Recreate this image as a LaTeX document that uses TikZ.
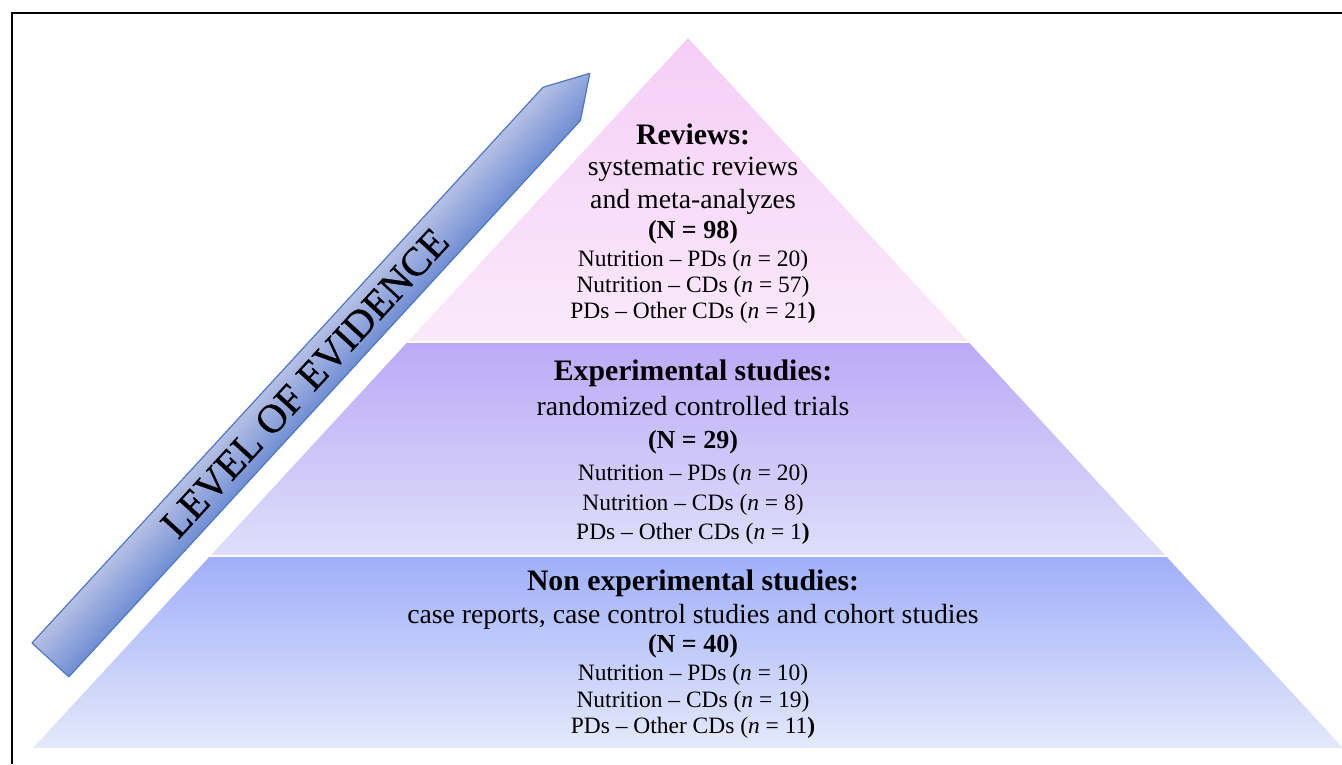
\documentclass[tikz,border=0pt]{standalone}
\usepackage{fontspec}
\setmainfont{Liberation Serif}
\newfontfamily\arrowfont[FakeBold=0.7]{Liberation Serif}
\definecolor{pinkT}{RGB}{245,206,247}
\definecolor{pinkB}{RGB}{250,233,250}
\definecolor{purT}{RGB}{188,170,247}
\definecolor{purB}{RGB}{222,222,250}
\definecolor{bluT}{RGB}{160,175,250}
\definecolor{bluB}{RGB}{228,233,250}
\definecolor{arrL}{RGB}{182,192,228}
\definecolor{arrD}{RGB}{112,142,212}
\definecolor{arrE}{RGB}{79,119,196}
\tikzset{
  head/.style={font=\fontsize{22.3}{26}\selectfont\bfseries, anchor=base, inner sep=0pt},
  sub/.style={font=\fontsize{20.8}{24}\selectfont, anchor=base, inner sep=0pt},
  subb/.style={font=\fontsize{19.5}{23}\selectfont\bfseries, anchor=base, inner sep=0pt},
  cnt/.style={font=\fontsize{17.6}{21}\selectfont, anchor=base, inner sep=0pt},
}
\begin{document}
\begin{tikzpicture}[x=0.75pt,y=-0.75pt]
\useasboundingbox (0,0) rectangle (1342,764);
% frame
\draw[line width=1.6pt] (12,764) -- (12,13) -- (1342,13);
% pyramid layers
\shade[top color=pinkT, bottom color=pinkB] (688,38) -- (967.5,341) -- (408.5,341) -- cycle;
\shade[top color=purT, bottom color=purB] (406.6,343) -- (969.4,343) -- (1164.9,555) -- (211.1,555) -- cycle;
\shade[top color=bluT, bottom color=bluB] (209.2,557) -- (1166.8,557) -- (1343,748) -- (33,748) -- cycle;
% arrow (drawn in its own rotated frame so that the shading runs across its width)
\begin{scope}[transform canvas={shift={(32,643)}, rotate=47.4}]
\shade[draw=arrE, line width=0.9pt, line join=round, top color=arrL, bottom color=arrD]
  (0,0) -- (755,0) -- (797,25) -- (756,50) -- (0,50) -- cycle;
\end{scope}
\node[font=\arrowfont\fontsize{30.4}{34}\selectfont, rotate=47.4, inner sep=0pt] (loe) at (305,383) {LEVEL OF EVIDENCE};
% top layer texts
\node[head] (r1) at (693,144) {Reviews:};
\node[sub]  (r2) at (693,175) {systematic reviews};
\node[sub]  (r3) at (693,208) {and meta-analyzes};
\node[subb] (r4) at (693,238) {(N = 98)};
\node[cnt]  (r5) at (693,266) {Nutrition – PDs (\textit{n} = 20)};
\node[cnt]  (r6) at (693,292) {Nutrition – CDs (\textit{n} = 57)};
\node[cnt]  (r7) at (693,318) {PDs – Other CDs (\textit{n} = 21\textbf{)}};
% middle layer texts
\node[head] (e1) at (693,380) {Experimental studies:};
\node[sub]  (e2) at (693,415) {randomized controlled trials};
\node[subb] (e3) at (693,448) {(N = 29)};
\node[cnt]  (e4) at (693,480) {Nutrition – PDs (\textit{n} = 20)};
\node[cnt]  (e5) at (693,510) {Nutrition – CDs (\textit{n} = 8)};
\node[cnt]  (e6) at (693,539) {PDs – Other CDs (\textit{n} = 1\textbf{)}};
% bottom layer texts
\node[head] (n1) at (693,590) {Non experimental studies:};
\node[sub]  (n2) at (693,623) {case reports, case control studies and cohort studies};
\node[subb] (n3) at (693,652) {(N = 40)};
\node[cnt]  (n4) at (693,680) {Nutrition – PDs (\textit{n} = 10)};
\node[cnt]  (n5) at (693,707) {Nutrition – CDs (\textit{n} = 19)};
\node[cnt]  (n6) at (693,733) {PDs – Other CDs (\textit{n} = 11\textbf{)}};
\end{tikzpicture}
\end{document}
